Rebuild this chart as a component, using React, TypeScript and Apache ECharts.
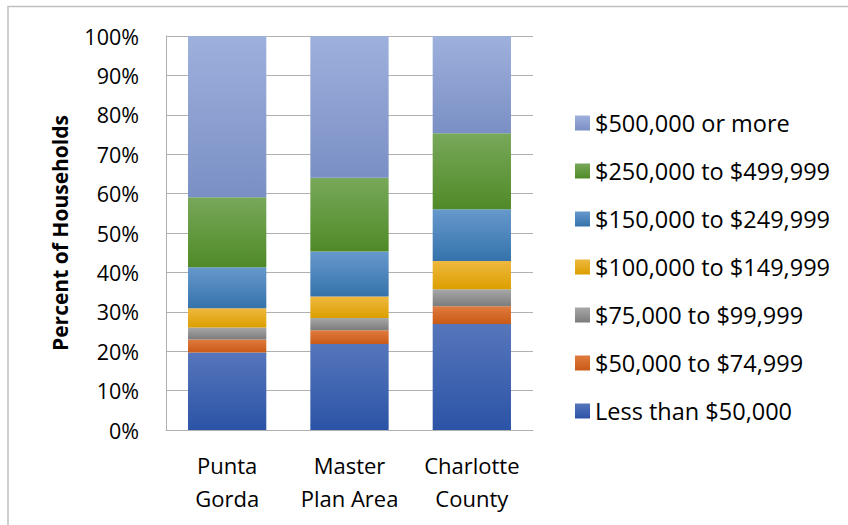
import React, { useEffect, useRef } from "react";
import * as echarts from "echarts";

const categories = ["Punta\nGorda", "Master\nPlan Area", "Charlotte\nCounty"];
const seriesNames = [
  "Less than $50,000",
  "$50,000 to $74,999",
  "$75,000 to $99,999",
  "$100,000 to $149,999",
  "$150,000 to $249,999",
  "$250,000 to $499,999",
  "$500,000 or more",
];
const lessThan50k = [19.7, 21.8, 26.9];
const from50kTo75k = [3.3, 3.5, 4.5];
const from75kTo100k = [3.0, 3.1, 4.3];
const from100kTo150k = [4.9, 5.5, 7.2];
const from150kTo250k = [10.4, 11.4, 13.1];
const from250kTo500k = [17.8, 18.7, 19.3];
const over500k = [40.9, 36.0, 24.7];
const seriesValues = [
  lessThan50k,
  from50kTo75k,
  from75kTo100k,
  from100kTo150k,
  from150kTo250k,
  from250kTo500k,
  over500k,
];
const gradientStops: [string, string][] = [
  ["#5676bb", "#2b53a6"],
  ["#e07b3e", "#c95a17"],
  ["#a7a7a7", "#7c7c7c"],
  ["#efb83f", "#dc9f00"],
  ["#6699cc", "#3572ab"],
  ["#78a85a", "#4f8a27"],
  ["#9eb0dc", "#7a8fc5"],
];

const FONT = "'Open Sans', sans-serif";

export default function App() {
  const ref = useRef<HTMLDivElement>(null);
  useEffect(() => {
    if (!ref.current) return;
    const chart = echarts.init(ref.current, undefined, { renderer: "svg" });
    const series = seriesNames.map((name, i) => ({
      name,
      type: "bar",
      stack: "total",
      barCategoryGap: "36%",
      data: seriesValues[i],
      itemStyle: {
        color: new echarts.graphic.LinearGradient(0, 0, 0, 1, [
          { offset: 0, color: gradientStops[i][0] },
          { offset: 1, color: gradientStops[i][1] },
        ]),
      },
    }));
    chart.setOption({
      animation: false,
      textStyle: { fontFamily: FONT },
      grid: { left: 166, right: 315, top: 36, bottom: 95, containLabel: false },
      graphic: [
        {
          type: "rect",
          shape: { x: 8, y: 6.5, width: 900, height: 600 },
          style: { fill: "none", stroke: "#c0c0c0", lineWidth: 1.5 },
          silent: true,
        },
      ],
      legend: {
        orient: "vertical",
        left: 570,
        top: 106,
        icon: "rect",
        itemWidth: 15,
        itemHeight: 15,
        itemGap: 24,
        data: [...seriesNames].reverse(),
        textStyle: { fontFamily: FONT, fontSize: 23.5, color: "#000", lineHeight: 24 },
      },
      xAxis: {
        type: "category",
        data: categories,
        axisTick: { show: false },
        axisLine: { lineStyle: { color: "#b0b0b0", width: 1 } },
        axisLabel: {
          interval: 0,
          fontFamily: FONT,
          fontSize: 22,
          color: "#000",
          lineHeight: 33,
          margin: 18,
        },
      },
      yAxis: {
        type: "value",
        min: 0,
        max: 100,
        interval: 10,
        name: "Percent of Households",
        nameLocation: "middle",
        nameGap: 96,
        nameTextStyle: { fontFamily: FONT, fontSize: 21, fontWeight: "bold", color: "#000" },
        axisLine: { show: true, lineStyle: { color: "#b0b0b0", width: 1 } },
        axisTick: { show: false },
        splitLine: { lineStyle: { color: "#b0b0b0", width: 1 } },
        axisLabel: {
          fontFamily: FONT,
          fontSize: 21.5,
          color: "#000",
          margin: 27,
          formatter: (v: number) => `${v}%`,
        },
      },
      series,
    });
    return () => chart.dispose();
  }, []);
  return (
    <div
      ref={ref}
      style={{ position: "absolute", left: 0, top: 0, width: 848, height: 525, background: "#fff" }}
    />
  );
}
